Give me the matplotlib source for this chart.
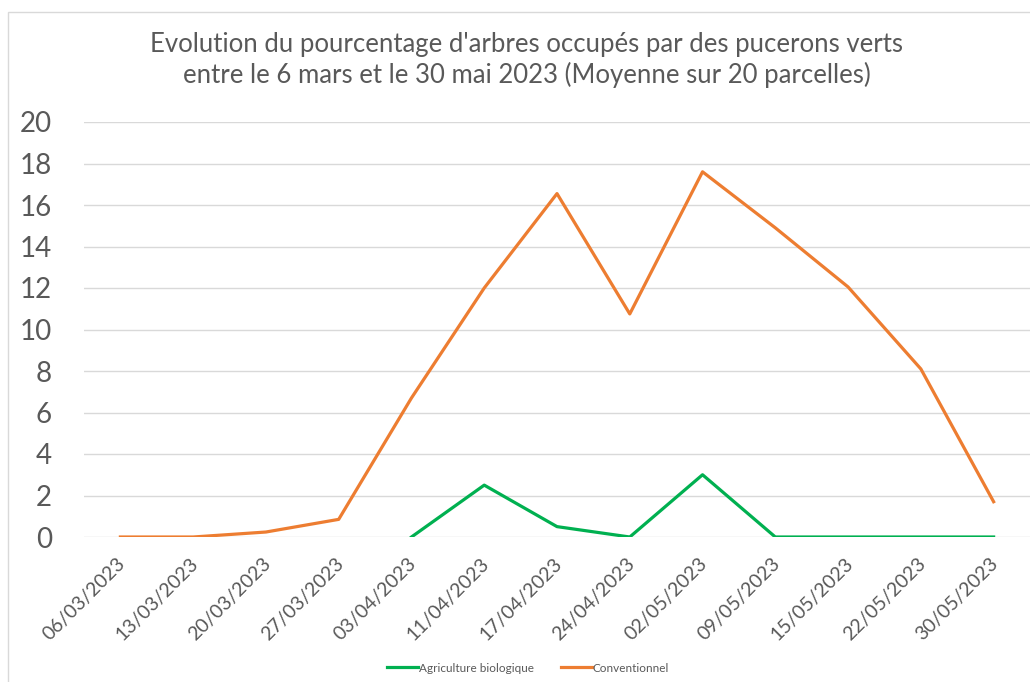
import numpy as np
import matplotlib.pyplot as plt
import matplotlib.transforms as mtransforms
from matplotlib.patches import Rectangle

# --- données ---
dates = ['06/03/2023', '13/03/2023', '20/03/2023', '27/03/2023', '03/04/2023',
         '11/04/2023', '17/04/2023', '24/04/2023', '02/05/2023', '09/05/2023',
         '15/05/2023', '22/05/2023', '30/05/2023']
bio = [np.nan, np.nan, np.nan, np.nan, 0, 2.5, 0.5, 0, 3.0, 0, 0, 0, 0]
conv = [0, 0, 0.24, 0.85, 6.7, 12.0, 16.55, 10.75, 17.6, 14.9, 12.05, 8.1, 1.7]

plt.rcParams['font.family'] = ['Lato', 'DejaVu Sans']
gris = '#595959'

fig = plt.figure(figsize=(10.30, 6.82), dpi=100)
ax = fig.add_axes([84 / 1030, 1 - 537 / 682, 1 - 84 / 1030, (537 - 122) / 682])

x = np.arange(len(dates))
ax.plot(x, bio, color='#00B050', linewidth=2.3, label='Agriculture biologique')
ax.plot(x, conv, color='#ED7D31', linewidth=2.3, label='Conventionnel')

ax.set_xlim(-0.5, len(dates) - 0.5)
ax.set_ylim(0, 20)
ax.set_yticks(range(0, 21, 2))
ax.grid(axis='y', color='#D9D9D9', linewidth=1)
ax.set_axisbelow(True)
for s in ax.spines.values():
    s.set_visible(False)
ax.tick_params(axis='both', length=0, colors=gris)
ax.tick_params(axis='y', labelsize=20, pad=23)
ax.set_xticks(x)
ax.set_xticklabels(dates, rotation=45, ha='right', va='top',
                   rotation_mode='anchor', fontsize=14, color=gris)
ax.tick_params(axis='x', pad=13)
# petit décalage vers la gauche des dates
decal = mtransforms.ScaledTranslation(-4 / 100, 0, fig.dpi_scale_trans)
for lab in ax.get_xticklabels():
    lab.set_transform(lab.get_transform() + decal)

fig.text(527 / 1030, 1 - 60 / 682,
         "Evolution du pourcentage d'arbres occupés par des pucerons verts\n"
         "entre le 6 mars et le 30 mai 2023 (Moyenne sur 20 parcelles)",
         ha='center', va='center', fontsize=18.5, color=gris, linespacing=1.25)

fig.legend(loc='center', bbox_to_anchor=(528 / 1030, 1 - 668 / 682), ncol=2,
           frameon=False, fontsize=8.5, labelcolor=gris, handlelength=2.6,
           handletextpad=0.1, columnspacing=2.3)

# cadre de la zone du graphique
fig.patches.append(Rectangle((8 / 1030, -0.05), 1.1, 1 - 12 / 682 + 0.05,
                             transform=fig.transFigure, fill=False,
                             edgecolor='#D9D9D9', linewidth=1))

fig.savefig('out.png', dpi=100)
